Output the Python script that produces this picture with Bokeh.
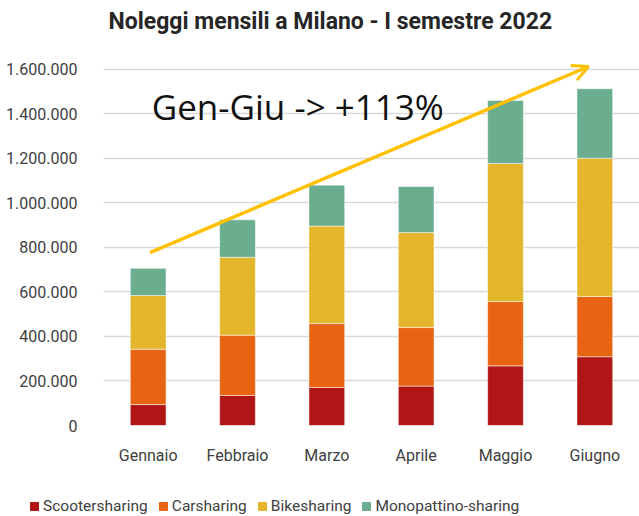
from bokeh.plotting import figure
from bokeh.layouts import column
from bokeh.models import ColumnDataSource, Legend, LegendItem, FixedTicker, Arrow, OpenHead, Label
from bokeh.embed import file_html
from bokeh.resources import INLINE

months = ["Gennaio", "Febbraio", "Marzo", "Aprile", "Maggio", "Giugno"]
series = ["Scootersharing", "Carsharing", "Bikesharing", "Monopattino-sharing"]
scooter = [94000, 135000, 171000, 177000, 268000, 309000]
car = [249000, 271000, 287000, 263000, 289000, 271000]
bike = [241000, 350000, 438000, 427000, 620000, 621000]
mono = [122000, 168000, 184000, 207000, 283000, 312000]
colors = ["#B01615", "#E86412", "#E3B62B", "#6AAE8F"]
y_ticks = [0, 200000, 400000, 600000, 800000, 1000000, 1200000, 1400000, 1600000]
y_tick_labels = ["0", "200.000", "400.000", "600.000", "800.000", "1.000.000",
                 "1.200.000", "1.400.000", "1.600.000"]
title_text = "Noleggi mensili a Milano - I semestre 2022"
note_text = "Gen-Giu -> +113%"
# arrow endpoints (category position, value)
arrow_start = (0.52, 777000)
arrow_end = (5.43, 1613000)

FONT = "Roboto"


def unalign(fig):
    if "frame_align" in fig.properties():
        fig.frame_align = False


source = ColumnDataSource(dict(month=months, Scootersharing=scooter, Carsharing=car,
                               Bikesharing=bike, **{"Monopattino-sharing": mono}))

# title strip (frame covers the whole strip: data units = pixels)
head = figure(width=639, height=60, x_range=(0, 639), y_range=(0, 60),
              output_backend="svg", toolbar_location=None,
              x_axis_type=None, y_axis_type=None, min_border=0)
unalign(head)
head.outline_line_color = None
head.xgrid.visible = False
head.ygrid.visible = False
head.add_layout(Label(x=108, y=39, text=title_text, text_font=FONT,
                      text_font_size="23px", text_font_style="bold",
                      text_color="#262626", text_baseline="middle"))

p = figure(x_range=months, y_range=(0, 1640000), width=639, height=432,
           output_backend="svg", toolbar_location=None,
           min_border_left=103, min_border_right=0, min_border_top=0, min_border_bottom=67)
unalign(p)

p.vbar_stack(series, x="month", width=0.4, color=colors, source=source,
             line_color="white", line_width=0.5)

p.outline_line_color = None
p.background_fill_color = "white"
p.border_fill_color = "white"

p.xgrid.grid_line_color = None
p.ygrid.grid_line_color = "#D9D9D9"
p.ygrid.grid_line_width = 1.5
p.ygrid.ticker = FixedTicker(ticks=y_ticks)

p.yaxis.ticker = FixedTicker(ticks=y_ticks)
p.yaxis.major_label_overrides = {t: l for t, l in zip(y_ticks, y_tick_labels)}
for ax in (p.xaxis, p.yaxis):
    ax.axis_line_color = None
    ax.major_tick_line_color = None
    ax.minor_tick_line_color = None
    ax.major_label_text_font = FONT
    ax.major_label_text_font_size = "16px"
    ax.major_label_text_color = "#404040"
p.yaxis.major_label_standoff = 20
p.xaxis.major_label_standoff = 14

p.add_layout(Arrow(end=OpenHead(line_color="#FFC000", line_width=3, size=16),
                   x_start=arrow_start[0], y_start=arrow_start[1],
                   x_end=arrow_end[0], y_end=arrow_end[1],
                   line_color="#FFC000", line_width=3.5))

p.add_layout(Label(x=0.54, y=1435000, text=note_text, text_font="Open Sans",
                   text_font_size="35px", text_color="#111111",
                   text_baseline="alphabetic"))

# separate strip that carries only the legend (its renderers are hidden)
leg = figure(width=639, height=24, x_range=months, y_range=(0, 1),
             output_backend="svg", toolbar_location=None,
             x_axis_type=None, y_axis_type=None, min_border=0)
unalign(leg)
leg.outline_line_color = None
leg.xgrid.visible = False
leg.ygrid.visible = False
leg_renderers = leg.vbar_stack(series, x="month", width=0.4, color=colors, source=source,
                               visible=False)
items = [LegendItem(label=s, renderers=[r]) for s, r in zip(series, leg_renderers)]
legend = Legend(items=items, orientation="horizontal", location=(29, 1),
                label_text_font=FONT, label_text_font_size="15.5px", label_height=18,
                label_text_color="#404040", glyph_width=10, glyph_height=10,
                spacing=10, label_standoff=4, padding=0, margin=0,
                background_fill_alpha=0, border_line_color=None)
leg.add_layout(legend, "center")

layout = column(head, p, leg, spacing=0)
open("out.html", "w").write(file_html(layout, INLINE))
